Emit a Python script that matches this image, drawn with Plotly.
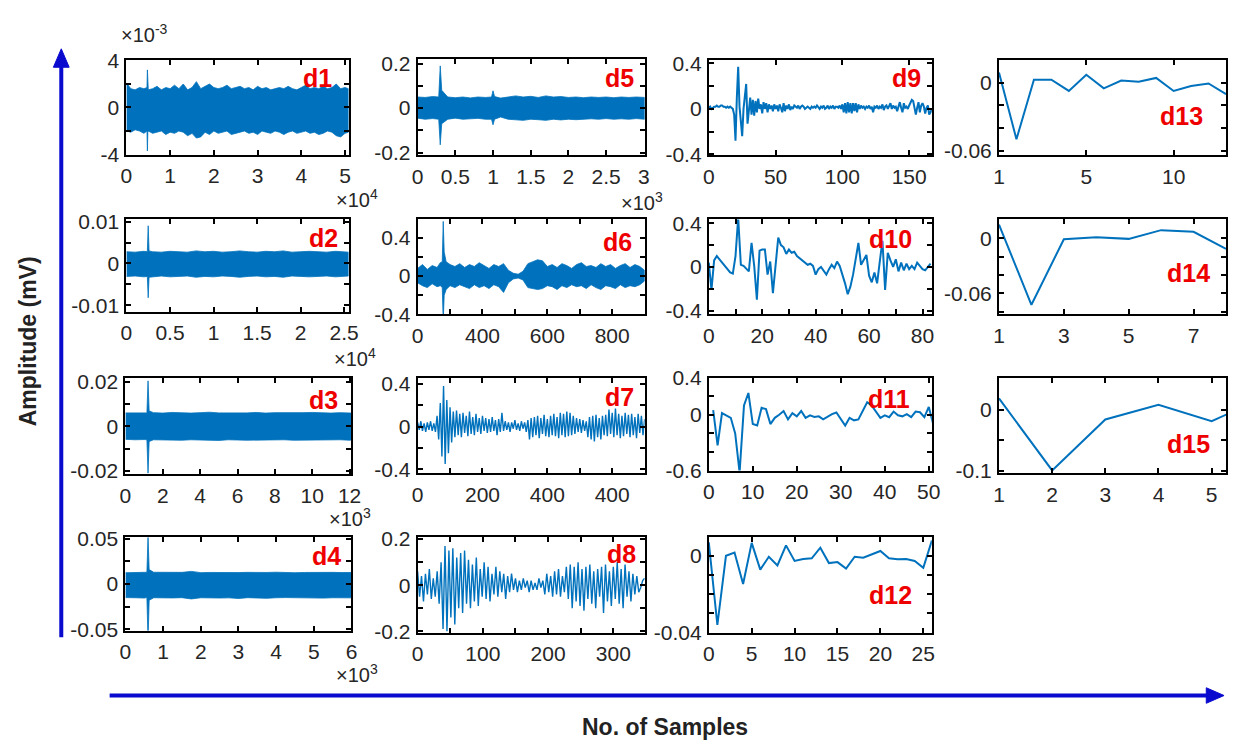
import plotly.graph_objects as go

W, H = 1237, 755
BLUE = '#0072BD'
RED = '#EE0000'
ARROW = '#0A0ACF'
FONT = 'Liberation Sans, Arial, sans-serif'

# ---------------- data (amplitude in mV, x = sample index) ----------------
# dense levels d1-d6 given as upper / lower envelopes
d1_x = [0, 1000, 2000, 3000, 4000, 4700, 4800, 4900, 5000, 6000, 7000, 8000, 9000, 10000,
        11000, 12000, 13000, 14000, 15000, 16000, 17000, 18000, 19000, 20000, 21000, 22000,
        23000, 24000, 25000, 26000, 27000, 28000, 29000, 30000, 31000, 32000, 33000, 34000,
        35000, 36000, 37000, 38000, 39000, 40000, 41000, 42000, 43000, 44000, 45000, 46000,
        47000, 48000, 49000, 50000, 50800]
d1_hi = [0.0021, 0.0016, 0.0015, 0.0017, 0.0016, 0.0017, 0.0032, 0.0017, 0.0015, 0.0016,
         0.0018, 0.0015, 0.0017, 0.0016, 0.0019, 0.0016, 0.0020, 0.0015, 0.0017, 0.0022,
         0.0016, 0.0018, 0.0020, 0.0017, 0.0016, 0.0017, 0.0019, 0.0016, 0.0017, 0.0018,
         0.0016, 0.0017, 0.0015, 0.0018, 0.0016, 0.0017, 0.0015, 0.0016, 0.0017, 0.0016,
         0.0018, 0.0016, 0.0015, 0.0017, 0.0019, 0.0016, 0.0017, 0.0016, 0.0018, 0.0016,
         0.0017, 0.0020, 0.0016, 0.0017, 0.0016]
d1_lo = [-0.0020, -0.0021, -0.0019, -0.0020, -0.0022, -0.0020, -0.0037, -0.0021, -0.0020, -0.0022,
         -0.0021, -0.0020, -0.0023, -0.0021, -0.0022, -0.0020, -0.0021, -0.0024, -0.0022, -0.0026,
         -0.0025, -0.0021, -0.0023, -0.0020, -0.0022, -0.0021, -0.0020, -0.0023, -0.0022, -0.0021,
         -0.0020, -0.0022, -0.0021, -0.0023, -0.0020, -0.0021, -0.0022, -0.0020, -0.0021, -0.0023,
         -0.0021, -0.0020, -0.0022, -0.0021, -0.0020, -0.0022, -0.0021, -0.0023, -0.0022, -0.0020,
         -0.0021, -0.0024, -0.0025, -0.0022, -0.0021]

d2_x = [0, 1000, 2000, 2400, 2500, 2600, 3000, 4000, 5000, 6000, 7000, 8000, 9000, 10000,
        11000, 12000, 13000, 14000, 15000, 16000, 17000, 18000, 19000, 20000, 21000, 22000,
        23000, 24000, 25000, 25500]
d2_hi = [0.0028, 0.0027, 0.0029, 0.0028, 0.0090, 0.0030, 0.0028, 0.0027, 0.0029, 0.0028,
         0.0027, 0.0030, 0.0028, 0.0029, 0.0027, 0.0028, 0.0030, 0.0028, 0.0027, 0.0029,
         0.0028, 0.0030, 0.0027, 0.0028, 0.0029, 0.0028, 0.0027, 0.0029, 0.0028, 0.0027]
d2_lo = [-0.0031, -0.0030, -0.0032, -0.0031, -0.0082, -0.0033, -0.0031, -0.0030, -0.0032, -0.0031,
         -0.0030, -0.0033, -0.0031, -0.0032, -0.0030, -0.0031, -0.0033, -0.0031, -0.0030, -0.0032,
         -0.0031, -0.0033, -0.0030, -0.0031, -0.0032, -0.0031, -0.0030, -0.0032, -0.0031, -0.0030]

d3_x = [0, 500, 1000, 1150, 1210, 1270, 1500, 2000, 2500, 3000, 3500, 4000, 4500, 5000, 5500,
        6000, 6500, 7000, 7500, 8000, 8500, 9000, 9500, 10000, 10500, 11000, 11500, 12000, 12100]
d3_hi = [0.0061, 0.0060, 0.0062, 0.0061, 0.0205, 0.0070, 0.0062, 0.0060, 0.0063, 0.0061,
         0.0060, 0.0062, 0.0064, 0.0061, 0.0060, 0.0062, 0.0061, 0.0063, 0.0060, 0.0062,
         0.0061, 0.0060, 0.0062, 0.0063, 0.0061, 0.0060, 0.0062, 0.0061, 0.0060]
d3_lo = [-0.0058, -0.0060, -0.0059, -0.0060, -0.0210, -0.0068, -0.0060, -0.0059, -0.0061, -0.0062,
         -0.0060, -0.0059, -0.0061, -0.0063, -0.0060, -0.0061, -0.0062, -0.0060, -0.0059, -0.0061,
         -0.0060, -0.0062, -0.0061, -0.0063, -0.0060, -0.0061, -0.0060, -0.0062, -0.0061]

d4_x = [0, 250, 500, 570, 600, 630, 750, 1000, 1250, 1500, 1750, 2000, 2250, 2500, 2750,
        3000, 3250, 3500, 3750, 4000, 4250, 4500, 4750, 5000, 5250, 5500, 5750, 6000]
d4_hi = [0.0125, 0.0128, 0.0126, 0.0130, 0.0530, 0.0160, 0.0130, 0.0127, 0.0125, 0.0129,
         0.0140, 0.0126, 0.0128, 0.0125, 0.0130, 0.0127, 0.0129, 0.0126, 0.0128, 0.0131,
         0.0127, 0.0125, 0.0128, 0.0130, 0.0126, 0.0129, 0.0127, 0.0128]
d4_lo = [-0.0150, -0.0152, -0.0155, -0.0150, -0.0620, -0.0180, -0.0152, -0.0150, -0.0154, -0.0151,
         -0.0165, -0.0152, -0.0150, -0.0155, -0.0153, -0.0160, -0.0151, -0.0155, -0.0158, -0.0152,
         -0.0150, -0.0154, -0.0151, -0.0153, -0.0156, -0.0152, -0.0150, -0.0153]

d5_x = [0, 100, 200, 280, 300, 320, 400, 500, 600, 700, 800, 900, 980, 1000, 1020, 1100, 1200,
        1300, 1400, 1500, 1600, 1700, 1800, 1900, 2000, 2100, 2200, 2300, 2400, 2500, 2600,
        2700, 2800, 2900, 3010]
d5_hi = [0.050, 0.048, 0.052, 0.050, 0.190, 0.080, 0.050, 0.047, 0.050, 0.046, 0.050, 0.048,
         0.050, 0.078, 0.052, 0.045, 0.050, 0.055, 0.050, 0.053, 0.048, 0.055, 0.050, 0.052,
         0.048, 0.050, 0.047, 0.050, 0.048, 0.050, 0.047, 0.050, 0.048, 0.050, 0.048]
d5_lo = [-0.045, -0.050, -0.047, -0.050, -0.165, -0.070, -0.050, -0.045, -0.050, -0.048, -0.046,
         -0.050, -0.050, -0.075, -0.050, -0.040, -0.050, -0.052, -0.055, -0.050, -0.052, -0.055,
         -0.050, -0.053, -0.050, -0.052, -0.050, -0.048, -0.050, -0.047, -0.050, -0.048, -0.050,
         -0.047, -0.050]

d6_x = [0, 15, 30, 45, 60, 70, 76, 79, 82, 88, 100, 115, 130, 145, 160, 175, 190, 205, 220,
        235, 250, 265, 280, 295, 310, 325, 340, 355, 370, 385, 400, 415, 430, 445, 460, 475,
        490, 505, 520, 535, 550, 565, 580, 595, 610, 625, 640, 655, 670, 685, 700]
d6_hi = [0.08, 0.12, 0.07, 0.11, 0.09, 0.14, 0.15, 0.57, 0.25, 0.15,
         0.12, 0.10, 0.13, 0.09, 0.12, 0.10, 0.14, 0.11, 0.08, 0.12, 0.10, 0.13, 0.06, 0.03,
         0.02, 0.05, 0.13, 0.15, 0.17, 0.16, 0.10, 0.12, 0.09, 0.13, 0.11, 0.08, 0.12, 0.14,
         0.10, 0.11, 0.09, 0.13, 0.10, 0.12, 0.08, 0.11, 0.13, 0.09, 0.12, 0.10, 0.06]
d6_lo = [-0.07, -0.10, -0.12, -0.08, -0.11, -0.10, -0.12, -0.47, -0.20, -0.14,
         -0.10, -0.12, -0.09, -0.11, -0.13, -0.09, -0.12, -0.10, -0.13, -0.09, -0.11, -0.17,
         -0.07, -0.03, -0.02, -0.04, -0.12, -0.13, -0.14, -0.13, -0.10, -0.11, -0.14, -0.10,
         -0.12, -0.09, -0.11, -0.10, -0.13, -0.09, -0.12, -0.14, -0.10, -0.11, -0.13, -0.09,
         -0.12, -0.10, -0.11, -0.09, -0.05]

# d7 (every 5th sample) and d8 (every 3rd sample)
d7_step = 5
d7_y = [0.04, -0.03, 0.05, -0.04, 0.03, -0.05, 0.04, -0.03, 0.05, -0.04, 0.03, -0.05,
        0.10, -0.12, 0.22, -0.28, 0.38, -0.35, 0.25, -0.25, 0.18,
        -0.15, 0.14, -0.10, 0.15, -0.08, 0.12, -0.10, 0.13, -0.06, 0.10, -0.09, 0.14, -0.07,
        0.09, -0.08, 0.12, -0.05, 0.08, -0.07, 0.10, -0.04, 0.08, -0.06, 0.07, -0.05, 0.09,
        -0.04, 0.06, -0.08, 0.07, -0.05, 0.13,
        -0.04, 0.05, -0.03, 0.04, -0.05, 0.04, -0.02, 0.06, -0.03, 0.03, -0.04, 0.05, -0.02,
        0.04, -0.05, 0.06,
        -0.12, 0.08, -0.10, 0.09, -0.08, 0.10, -0.11, 0.08, -0.07, 0.11, -0.09, 0.07, -0.10,
        0.10, -0.08, 0.12, -0.09, 0.09, -0.11, 0.13, -0.08, 0.12, -0.10, 0.14, -0.09, 0.13,
        -0.08, 0.10, -0.07, 0.08, -0.05, 0.07, -0.06, 0.06, -0.04, 0.05,
        -0.10, 0.09, -0.12, 0.10, -0.14, 0.11, -0.10, 0.08, -0.12, 0.10, -0.08, 0.11, -0.09,
        0.16, -0.07, 0.13, -0.10, 0.17, -0.08, 0.12, -0.11, 0.10, -0.09, 0.13, -0.07, 0.11,
        -0.10, 0.12, -0.08, 0.09, -0.11, 0.12, -0.06, 0.10, -0.08, 0.07]
d8_step = 3
d8_y = [0.06, -0.05, 0.04, -0.07, 0.05, -0.04, 0.07, -0.06, 0.03, -0.05, 0.06, -0.08,
        0.10, -0.19, 0.17, -0.20, 0.15, -0.14, 0.16, -0.17, 0.12, -0.10, 0.14, -0.12, 0.15,
        -0.08, 0.11, -0.10,
        0.09, -0.07, 0.12, -0.09, 0.07, -0.05, 0.10, -0.06, 0.08, -0.07, 0.05, -0.04, 0.08,
        -0.05, 0.06, -0.03, 0.05, -0.06, 0.04, -0.03, 0.05, -0.02, 0.03,
        -0.03, 0.02, -0.02, 0.03, -0.01, 0.02, -0.03, 0.02, -0.02, 0.01, -0.02, 0.03, -0.01,
        0.02, -0.04, 0.05, -0.03, 0.04, -0.05, 0.06,
        -0.04, 0.07, -0.05, 0.04, -0.03, 0.08, -0.06, 0.09, -0.10, 0.08, -0.07, 0.10, -0.09,
        0.07, -0.11, 0.08, -0.06, 0.09, -0.08, 0.06, -0.10, 0.07, -0.05, 0.08, -0.12, 0.09,
        -0.07, 0.06, -0.09, 0.08, -0.06, 0.10, -0.08, 0.07, -0.10, 0.09, -0.05, 0.06, -0.07,
        0.05, -0.04,
        0.04, -0.03, -0.01, 0.02, 0.03]

# sparse levels d9-d15, every sample
d9_y = [0.01, 0.02, 0.0, 0.01, 0.02, 0.02, 0.03, 0.02, 0.02, 0.03,
        0.03, 0.02, 0.02, 0.01, 0.02, 0.01, 0.02, 0.01, 0.0, -0.05,
        -0.28, 0.10, 0.37, 0.02, -0.15, -0.24, 0.0, 0.15, 0.22, -0.13,
        0.02, 0.10, -0.05, 0.08, -0.06, 0.07, -0.03, 0.09, 0.0, 0.04,
        -0.04, 0.06, 0.0, 0.05, -0.03, 0.04, 0.0, 0.03, -0.02, 0.04,
        0.0, 0.03, -0.02, 0.04, 0.01, -0.03, 0.05, -0.02, 0.03, 0.0,
        0.04, -0.01, 0.02, 0.0, 0.03, 0.02, 0.01, 0.03, 0.0, 0.02,
        0.03, 0.02, 0.0, 0.01, 0.02, 0.01, 0.0, 0.02, 0.01, 0.02,
        0.01, 0.03, 0.01, 0.0, 0.02, 0.01, 0.03, 0.0, 0.01, 0.03,
        0.0, 0.02, 0.01, 0.03, 0.0, 0.02, 0.02, 0.01, 0.03, 0.0,
        0.04, -0.03, 0.05, -0.04, 0.06, -0.03, 0.05, -0.04, 0.05, -0.02,
        0.05, -0.03, 0.04, 0.0, 0.03, 0.01, 0.02, 0.0, 0.02, 0.01,
        0.03, 0.0, 0.02, -0.03, 0.02, 0.01, 0.03, 0.0, 0.02, 0.01,
        0.04, -0.01, 0.02, 0.03, 0.0, 0.02, 0.05, 0.0, 0.03, 0.01,
        0.02, -0.02, 0.03, 0.06, 0.01, -0.03, 0.05, 0.01, 0.02, 0.0,
        0.03, 0.05, 0.08, 0.07, 0.02, -0.05, 0.01, 0.06, -0.03, 0.03,
        0.05, 0.02, -0.04, 0.01, 0.03, -0.05, -0.03, 0.0]
d10_y = [0.04, -0.21, 0.06, 0.10, 0.07, 0.04, 0.01, -0.03, -0.05, -0.06,
         0.10, 0.45, 0.02, 0.01, -0.02, -0.04, 0.22, 0.01, -0.30, 0.15,
         0.16, 0.16, -0.07, 0.05, -0.24, 0.05, 0.27, 0.20, 0.18, 0.12,
         0.16, 0.13, 0.14, 0.10, 0.08, 0.06, 0.04, 0.02, 0.03, 0.01,
         -0.07, -0.02, 0.0, -0.03, -0.07, -0.02, 0.02, -0.01, 0.05, 0.01,
         -0.06, -0.15, -0.25, -0.18, -0.07, 0.06, 0.22, 0.02, 0.07, 0.11,
         -0.08, -0.14, -0.05, -0.15, 0.05, 0.24, -0.21, 0.13, 0.06, 0.0,
         0.07, -0.04, 0.04, -0.03, 0.03, -0.02, 0.01, -0.02, 0.04, 0.01,
         -0.02, -0.03, 0.0, 0.03]
d11_y = [0.05, -0.33, 0.017, -0.006, -0.033, -0.20, -0.62, 0.10, 0.234, -0.10,
         -0.116, 0.074, 0.06, -0.10, -0.033, 0.0, 0.04, -0.05, 0.017, -0.017,
         0.04, -0.033, -0.006, -0.023, -0.017, -0.05, -0.017, 0.007, 0.024, -0.05,
         -0.116, -0.033, -0.06, -0.05, 0.034, 0.134, 0.10, 0.034, -0.033, -0.006,
         -0.026, 0.034, -0.006, -0.017, 0.007, -0.026, 0.034, 0.027, -0.026, 0.084,
         -0.10]
d12_y = [0.0069, -0.0361, -0.0001, 0.0016, -0.0148, 0.0066, -0.0073, -0.0006, -0.0051,
         0.0053, -0.0028, -0.0018, -0.0014, 0.0041, -0.0039, -0.0034, -0.0068, -0.0006,
         -0.0011, 0.0008, 0.0024, -0.0014, -0.0019, -0.0018, -0.0028, -0.0064, 0.0078]
d13_y = [0.0091, -0.050, 0.0028, 0.0028, -0.0072, 0.0071, -0.0049, 0.0020, 0.0009, 0.0043,
         -0.0072, -0.0029, -0.0006, -0.010]
d14_y = [0.0148, -0.0724, -0.0011, 0.0011, -0.0007, 0.0088, 0.0070, -0.0116]
d15_y = [0.0185, -0.099, -0.0158, 0.0079, -0.0185, 0.020]

# first sample index of each sparse level
d9_x0, d10_x0, d11_x0, d12_x0, d13_x0, d14_x0, d15_x0 = 0, 0, 1, 0, 0, 1, 1

# tick labels
d1_xt = ['0', '1', '2', '3', '4', '5']
d1_yt = ['-4', '0', '4']
d2_xt = ['0', '0.5', '1', '1.5', '2', '2.5']
d2_yt = ['-0.01', '0', '0.01']
d3_xt = ['0', '2', '4', '6', '8', '10', '12']
d3_yt = ['-0.02', '0', '0.02']
d4_xt = ['0', '1', '2', '3', '4', '5', '6']
d4_yt = ['-0.05', '0', '0.05']
d5_xt = ['0', '0.5', '1', '1.5', '2', '2.5', '3']
d5_yt = ['-0.2', '0', '0.2']
d6_xt = ['0', '400', '600', '800']
d6_yt = ['-0.4', '0', '0.4']
d7_xt = ['0', '200', '400', '400']
d7_yt = ['-0.4', '0', '0.4']
d8_xt = ['0', '100', '200', '300']
d8_yt = ['-0.2', '0', '0.2']
d9_xt = ['0', '50', '100', '150']
d9_yt = ['-0.4', '0', '0.4']
d10_xt = ['0', '20', '40', '60', '80']
d10_yt = ['-0.4', '0', '0.4']
d11_xt = ['0', '10', '20', '30', '40', '50']
d11_yt = ['-0.6', '0', '0.4']
d12_xt = ['0', '5', '10', '15', '20', '25']
d12_yt = ['-0.04', '0']
d13_xt = ['1', '5', '10']
d13_yt = ['-0.06', '0']
d14_xt = ['1', '3', '5', '7']
d14_yt = ['-0.06', '0']
d15_xt = ['1', '2', '3', '4', '5']
d15_yt = ['-0.1', '0']

panel_names = ['d%d' % i for i in range(1, 16)]

# ---------------- layout configuration ----------------
# frame boxes in pixels: (left, right, top, bottom); xm / ym = minor tick spacing
panels = {
    'd1': dict(box=(122, 347, 50, 147), xr=[0, 50800], yr=[-0.004, 0.004],
               xv=[0, 10000, 20000, 30000, 40000, 50000], xt=d1_xt, xm=None,
               yv=[-0.004, 0, 0.004], yt=d1_yt, ym=0.002, lab=(316, 68)),
    'd2': dict(box=(122, 347, 214, 309), xr=[0, 25500], yr=[-0.0115, 0.0105],
               xv=[0, 5000, 10000, 15000, 20000, 25000], xt=d2_xt, xm=None,
               yv=[-0.01, 0, 0.01], yt=d2_yt, ym=0.005, lab=(322, 233)),
    'd3': dict(box=(121, 350, 377, 477), xr=[0, 12100], yr=[-0.0216, 0.022],
               xv=[0, 2000, 4000, 6000, 8000, 10000, 12000], xt=d3_xt, xm=None,
               yv=[-0.02, 0, 0.02], yt=d3_yt, ym=0.01, lab=(322, 400)),
    'd4': dict(box=(121, 350, 542, 638), xr=[0, 6000], yr=[-0.0515, 0.0515],
               xv=[0, 1000, 2000, 3000, 4000, 5000, 6000], xt=d4_xt, xm=None,
               yv=[-0.05, 0, 0.05], yt=d4_yt, ym=0.025, lab=(325, 561)),
    'd5': dict(box=(417, 647, 48, 148), xr=[0, 3010], yr=[-0.213, 0.223],
               xv=[0, 500, 1000, 1500, 2000, 2500, 3000], xt=d5_xt, xm=None,
               yv=[-0.2, 0, 0.2], yt=d5_yt, ym=0.1, lab=(622, 68)),
    'd6': dict(box=(417, 647, 214, 312), xr=[0, 700], yr=[-0.4, 0.59],
               xv=[0, 200, 400, 600], xt=d6_xt, xm=100,
               yv=[-0.4, 0, 0.4], yt=d6_yt, ym=0.2, lab=(620, 237)),
    'd7': dict(box=(417, 647, 377, 476), xr=[0, 700], yr=[-0.44, 0.46],
               xv=[0, 200, 400, 600], xt=d7_xt, xm=100,
               yv=[-0.4, 0, 0.4], yt=d7_yt, ym=0.2, lab=(622, 397)),
    'd8': dict(box=(417, 647, 542, 640), xr=[0, 348], yr=[-0.205, 0.207],
               xv=[0, 100, 200, 300], xt=d8_xt, xm=50,
               yv=[-0.2, 0, 0.2], yt=d8_yt, ym=0.1, lab=(624, 559)),
    'd9': dict(box=(712, 938, 49, 148), xr=[0, 167], yr=[-0.41, 0.435],
               xv=[0, 50, 100, 150], xt=d9_xt, xm=None,
               yv=[-0.4, 0, 0.4], yt=d9_yt, ym=0.2, lab=(912, 68)),
    'd10': dict(box=(712, 938, 214, 312), xr=[0, 83.5], yr=[-0.435, 0.435],
                xv=[0, 20, 40, 60, 80], xt=d10_xt, xm=10,
                yv=[-0.4, 0, 0.4], yt=d10_yt, ym=0.2, lab=(896, 234)),
    'd11': dict(box=(712, 938, 377, 473), xr=[0, 50.7], yr=[-0.6, 0.4],
                xv=[0, 10, 20, 30, 40, 50], xt=d11_xt, xm=None,
                yv=[-0.6, 0, 0.4], yt=d11_yt, ym=0.2, lab=(895, 399)),
    'd12': dict(box=(712, 938, 542, 640), xr=[0, 26], yr=[-0.04, 0.0094],
                xv=[0, 5, 10, 15, 20, 25], xt=d12_xt, xm=None,
                yv=[-0.04, 0], yt=d12_yt, ym=0.01, lab=(896, 601)),
    'd13': dict(box=(1006, 1236, 49, 148), xr=[0, 13], yr=[-0.0643, 0.0206],
                xv=[0, 5, 10], xt=d13_xt, xm=None,
                yv=[-0.06, 0], yt=d13_yt, ym=0.02, lab=(1191, 107)),
    'd14': dict(box=(1006, 1236, 214, 312), xr=[1, 8], yr=[-0.083, 0.0204],
                xv=[1, 3, 5, 7], xt=d14_xt, xm=None,
                yv=[-0.06, 0], yt=d14_yt, ym=0.02, lab=(1198, 269)),
    'd15': dict(box=(1006, 1236, 378, 476), xr=[1, 5.27], yr=[-0.104, 0.051],
                xv=[1, 2, 3, 4, 5], xt=d15_xt, xm=None,
                yv=[-0.1, 0], yt=d15_yt, ym=0.05, lab=(1198, 446)),
}

bands = {'d1': (d1_x, d1_hi, d1_lo), 'd2': (d2_x, d2_hi, d2_lo), 'd3': (d3_x, d3_hi, d3_lo),
         'd4': (d4_x, d4_hi, d4_lo), 'd5': (d5_x, d5_hi, d5_lo), 'd6': (d6_x, d6_hi, d6_lo)}
zigzags = {'d7': (d7_step, d7_y), 'd8': (d8_step, d8_y)}
lines = {'d9': (d9_x0, d9_y), 'd10': (d10_x0, d10_y), 'd11': (d11_x0, d11_y),
         'd12': (d12_x0, d12_y), 'd13': (d13_x0, d13_y), 'd14': (d14_x0, d14_y),
         'd15': (d15_x0, d15_y)}


def fx(p):
    return p / W


def fy(p):
    return 1 - p / H


fig = go.Figure()
layout = {}
annotations = []
tickfont = dict(family=FONT, size=21, color='#262626')

for i, name in enumerate(panel_names, start=1):
    p = panels[name]
    xa = 'x' if i == 1 else 'x%d' % i
    ya = 'y' if i == 1 else 'y%d' % i
    if name in bands:
        xs, hi, lo = bands[name]
        fig.add_trace(go.Scatter(x=xs + xs[::-1], y=hi + lo[::-1], fill='toself',
                                 fillcolor=BLUE, mode='lines',
                                 line=dict(color=BLUE, width=0.8),
                                 hoverinfo='skip', xaxis=xa, yaxis=ya))
    elif name in zigzags:
        step, ys = zigzags[name]
        xs = [k * step for k in range(len(ys))]
        fig.add_trace(go.Scatter(x=xs, y=ys, mode='lines', line=dict(color=BLUE, width=1.4),
                                 xaxis=xa, yaxis=ya))
    else:
        x0, ys = lines[name]
        xs = [x0 + k for k in range(len(ys))]
        fig.add_trace(go.Scatter(x=xs, y=ys, mode='lines', line=dict(color=BLUE, width=2),
                                 xaxis=xa, yaxis=ya))
    l, r, t, b = p['box']
    common = dict(showline=True, linecolor='black', linewidth=2, mirror='ticks',
                  ticks='inside', ticklen=5, tickwidth=1.5, tickcolor='black',
                  showgrid=False, zeroline=False, tickfont=tickfont, fixedrange=True,
                  ticklabelstandoff=1)
    xd = dict(domain=[fx(l), fx(r)], range=p['xr'], anchor=ya, tickmode='array',
              tickvals=p['xv'], ticktext=p['xt'], **common)
    if p['xm']:
        xd['minor'] = dict(dtick=p['xm'], tick0=0, ticks='inside', ticklen=5,
                           tickwidth=1.5, tickcolor='black', showgrid=False)
    yd = dict(domain=[fy(b), fy(t)], range=p['yr'], anchor=xa, tickmode='array',
              tickvals=p['yv'], ticktext=p['yt'], **common)
    if p['ym']:
        yd['minor'] = dict(dtick=p['ym'], tick0=0, ticks='inside', ticklen=5,
                           tickwidth=1.5, tickcolor='black', showgrid=False)
    layout['xaxis' if i == 1 else 'xaxis%d' % i] = xd
    layout['yaxis' if i == 1 else 'yaxis%d' % i] = yd
    cx, cy = p['lab']
    annotations.append(dict(text=name, x=fx(cx), y=fy(cy), xref='paper', yref='paper',
                            xanchor='center', yanchor='middle', showarrow=False,
                            font=dict(family=FONT, size=25, color=RED, weight='bold')))

# exponent labels
expo = [('×10<sup>-3</sup>', 140, 22), ('×10<sup>4</sup>', 356, 192), ('×10<sup>3</sup>', 644, 195),
        ('×10<sup>4</sup>', 354, 356), ('×10<sup>3</sup>', 349, 521), ('×10<sup>3</sup>', 356, 682)]
for txt, cx, cy in expo:
    annotations.append(dict(text=txt, x=fx(cx), y=fy(cy), xref='paper', yref='paper',
                            xanchor='center', yanchor='middle', showarrow=False,
                            font=dict(family=FONT, size=20, color='#262626')))

annotations.append(dict(text='Amplitude (mV)', x=fx(22), y=fy(340), xref='paper', yref='paper',
                        textangle=-90, xanchor='center', yanchor='middle', showarrow=False,
                        font=dict(family=FONT, size=23, color='#222222', weight='bold')))
annotations.append(dict(text='No. of Samples', x=fx(668), y=fy(737), xref='paper', yref='paper',
                        xanchor='center', yanchor='middle', showarrow=False,
                        font=dict(family=FONT, size=23, color='#222222', weight='bold')))

shapes = [
    dict(type='line', xref='paper', yref='paper', x0=fx(56), x1=fx(56), y0=fy(645), y1=fy(52),
         line=dict(color=ARROW, width=4)),
    dict(type='path', xref='paper', yref='paper',
         path='M %f,%f L %f,%f L %f,%f Z' % (fx(48), fy(57), fx(64), fy(57), fx(56), fy(38)),
         fillcolor=ARROW, line=dict(color=ARROW, width=1)),
    dict(type='line', xref='paper', yref='paper', x0=fx(105), x1=fx(1220), y0=fy(705), y1=fy(705),
         line=dict(color=ARROW, width=4)),
    dict(type='path', xref='paper', yref='paper',
         path='M %f,%f L %f,%f L %f,%f Z' % (fx(1216), fy(697), fx(1216), fy(713), fx(1234), fy(705)),
         fillcolor=ARROW, line=dict(color=ARROW, width=1)),
]

fig.update_layout(width=W, height=H, margin=dict(l=0, r=0, t=0, b=0),
                  paper_bgcolor='white', plot_bgcolor='white', showlegend=False,
                  annotations=annotations, shapes=shapes, **layout)

fig.write_html('out.html')
